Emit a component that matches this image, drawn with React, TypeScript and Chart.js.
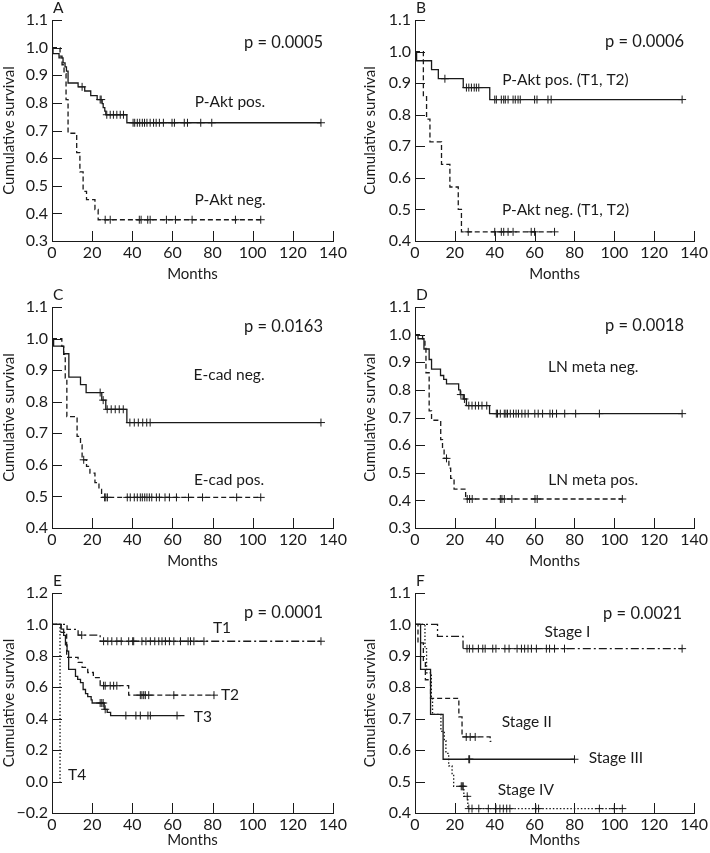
import React, { useEffect, useRef } from 'react';
import { Chart, registerables } from 'chart.js';

Chart.register(...registerables);

const FONT = 'Lato, "Noto Sans", sans-serif';
const INK = '#1a1a1a';

// ---------- shared axis ticks ----------
const monthTicks = [0, 20, 40, 60, 80, 100, 120, 140];

// ---------- Panel A : P-Akt ----------
const aPosTime = [0.5, 3.5, 5.5, 6.5, 7.2, 8, 13, 16.3, 19.3, 22.5, 25, 25.5, 26.3, 26.8, 37.3];
const aPosSurv = [0.978, 0.963, 0.945, 0.93, 0.915, 0.872, 0.858, 0.843, 0.826, 0.812, 0.797, 0.783, 0.77, 0.757, 0.728];
const aPosCensor = [15, 24, 24.5, 27.3, 29, 30.6, 32.3, 34, 35.6, 40.4, 41.2, 42.5, 43.7, 45, 46.1, 47.3, 48.9, 50.6, 51.9, 53.5, 55.5, 59.8, 61, 65.9, 67.5, 74.1, 79.6, 134];
const aNegTime = [4, 5, 6, 7, 8, 12.3, 13.9, 15.5, 17.2, 21.4, 23];
const aNegSurv = [0.969, 0.938, 0.906, 0.812, 0.69, 0.62, 0.55, 0.48, 0.45, 0.414, 0.377];
const aNegCensor = [26.5, 29, 43.5, 44.4, 47.7, 48.9, 57, 61.5, 69.8, 91.4, 104];

// ---------- Panel B : P-Akt (T1, T2) ----------
const bPosTime = [0.8, 8.3, 11.7, 24.2, 37.5];
const bPosSurv = [0.971, 0.943, 0.914, 0.886, 0.848];
const bPosCensor = [15, 25.8, 27, 28.3, 29.7, 30.8, 32, 40, 40.8, 43.3, 44.5, 45.3, 46.7, 49.2, 50.3, 51.7, 52.8, 60, 61.2, 66.7, 68.3, 134];
const bNegTime = [4.2, 5.8, 7.5, 13.3, 17.5, 21.7, 23.3];
const bNegSurv = [0.857, 0.786, 0.714, 0.643, 0.571, 0.5, 0.429];
const bNegCensor = [26.7, 40, 43.3, 44.5, 46.7, 49.2, 58.3, 60, 70];

// ---------- Panel C : E-cadherin ----------
const cNegTime = [0.8, 5.8, 8.4, 14.2, 17, 24.8, 26.8, 37.3];
const cNegSurv = [0.976, 0.952, 0.878, 0.854, 0.829, 0.805, 0.776, 0.734];
const cNegCensor = [24, 25.5, 27.5, 29.5, 31.5, 33.5, 35.5, 38.8, 41, 43, 45.2, 47.2, 48.9, 134];
const cPosTime = [4.9, 5.8, 6.6, 7.4, 12.5, 14.2, 15, 17.2, 18.9, 21.4, 23.4, 24.7];
const cPosSurv = [0.975, 0.95, 0.875, 0.753, 0.69, 0.663, 0.616, 0.595, 0.574, 0.544, 0.522, 0.497];
const cPosCensor = [15.8, 26.2, 26.8, 27.6, 37.5, 39, 41, 42.5, 44, 45, 46.2, 47.3, 48.5, 49.7, 52, 53.5, 56.3, 58.5, 62, 68, 75, 92, 104];

// ---------- Panel D : lymph node metastasis ----------
const dNegTime = [1.5, 4.5, 7.1, 8.3, 12.8, 14.4, 15.8, 21.9, 22.7, 24.2, 25.8, 37.4];
const dNegSurv = [0.985, 0.948, 0.91, 0.875, 0.852, 0.838, 0.822, 0.8, 0.783, 0.767, 0.743, 0.714];
const dNegCensor = [23, 24.8, 27, 28.6, 30.3, 31.9, 33.6, 36, 40.8, 41.4, 42.8, 44.8, 45.6, 46.4, 47.8, 49.4, 50.7, 51.9, 53.6, 55.2, 56.8, 60.1, 61.8, 64, 67.7, 69, 71, 75.1, 80.6, 92.5, 134];
const dPosTime = [3.8, 5, 5.5, 7.1, 8.3, 12.9, 13.8, 14.6, 17, 17.9, 19.6, 25.4];
const dPosSurv = [0.985, 0.96, 0.862, 0.724, 0.69, 0.62, 0.586, 0.552, 0.517, 0.48, 0.441, 0.405];
const dPosCensor = [15.8, 26.2, 27.4, 28.7, 42.8, 43.6, 44.8, 48.6, 60.2, 61.3, 104];

// ---------- Panel E : T stage ----------
const e1Time = [7.5, 13, 24];
const e1Surv = [0.968, 0.932, 0.893];
const e1Censor = [14.8, 25.7, 27.8, 29.8, 32.3, 34.5, 38.2, 40.2, 40.7, 44.8, 46.8, 49, 51.2, 53.2, 54.8, 56.5, 58.5, 60.7, 64, 67.8, 69, 70.7, 75.7, 134];
const e2Time = [4.5, 7.3, 13, 15, 17.8, 20.6, 24, 38.2];
const e2Surv = [0.95, 0.79, 0.758, 0.727, 0.694, 0.662, 0.61, 0.55];
const e2Censor = [25.7, 26.5, 29, 30.7, 32.3, 44, 44.8, 45.7, 46.5, 48.2, 60.7, 80.7];
const e3Time = [4.5, 5.8, 6.7, 7.5, 8.3, 11.7, 12.8, 14.2, 15.5, 16.7, 17.8, 19.5, 20, 26, 27.5, 29.2];
const e3Surv = [0.97, 0.93, 0.87, 0.83, 0.714, 0.67, 0.65, 0.63, 0.586, 0.56, 0.54, 0.52, 0.5, 0.46, 0.44, 0.42];
const e3Censor = [24, 24.8, 25.5, 26.5, 36.8, 41.8, 44, 47.8, 49, 62.3];
const e3End = 66;
const e4Time = [4];
const e4Surv = [0];
const e4Censor: number[] = [];

// ---------- Panel F : stage ----------
const f1Time = [11.3, 24.1];
const f1Surv = [0.962, 0.923];
const f1Censor = [26.1, 27.3, 29, 31.8, 34, 35.2, 39, 40.6, 45.1, 47.2, 51.2, 53.4, 55, 56.7, 58.4, 60.9, 65.9, 67.5, 70, 75, 134];
const f2Time = [1.5, 4.2, 5.2, 7.8, 22, 23.6, 37.7];
const f2Surv = [0.941, 0.882, 0.824, 0.765, 0.706, 0.642, 0.628];
const f2Censor = [25.7, 27.7, 30.2];
const f2End = 38.3;
const f3Time = [2.8, 7.8, 14.1];
const f3Surv = [0.857, 0.714, 0.571];
const f3Censor = [27, 27.4, 80];
const f4Time = [5, 5.8, 8.2, 8.8, 13, 14.7, 15.5, 16.9, 18.6, 19.4, 24.5, 26.5];
const f4Surv = [0.923, 0.846, 0.769, 0.714, 0.66, 0.63, 0.59, 0.55, 0.52, 0.485, 0.453, 0.414];
const f4Censor = [23.2, 23.7, 24.2, 26.2, 27, 28.6, 32, 36.8, 40.6, 42.6, 44.3, 46, 47.6, 60.6, 62, 92.5, 100, 104];

// ---------- rendering helpers ----------
type Style = 'solid' | 'dashed' | 'dashdot' | 'dotted';
const DASH: Record<Style, number[]> = {
  solid: [],
  dashed: [5, 3],
  dashdot: [8, 3, 2, 3],
  dotted: [1.5, 2],
};

function survAt(times: number[], surv: number[], t: number) {
  let v = 1;
  for (let i = 0; i < times.length; i++) if (times[i] <= t) v = surv[i];
  return v;
}

function curve(times: number[], surv: number[], censor: number[], style: Style, end?: number) {
  const lastT = times.length ? times[times.length - 1] : 0;
  const lastS = surv.length ? surv[surv.length - 1] : 1;
  const stop = end ?? Math.max(lastT, ...(censor.length ? censor : [0]));
  const pts = [{ x: 0, y: 1 }, ...times.map((t, i) => ({ x: t, y: surv[i] }))];
  if (stop > lastT) pts.push({ x: stop, y: lastS });
  return [
    {
      data: pts,
      stepped: true,
      borderColor: INK,
      borderWidth: 1.3,
      borderDash: DASH[style],
      pointRadius: 0,
      fill: false,
    },
    {
      data: censor.map((t) => ({ x: t, y: survAt(times, surv, t) })),
      showLine: false,
      pointStyle: 'cross',
      pointRadius: 4,
      pointBorderWidth: 1,
      borderColor: INK,
      backgroundColor: INK,
    },
  ];
}

type Label = { text: string; x: number; y: number; align: CanvasTextAlign; size: number };
type PanelCfg = {
  letter: string;
  left: number;
  top: number;
  w: number;
  h: number;
  padL: number;
  padR: number;
  yW: number;
  xH: number;
  yMin: number;
  yMax: number;
  yStep: number;
  labels: Label[];
  datasets: any[];
};

const inwardTicks = {
  id: 'inwardTicks',
  afterDatasetsDraw(chart: any) {
    const { ctx, chartArea, scales } = chart;
    ctx.save();
    ctx.strokeStyle = INK;
    ctx.lineWidth = 1;
    ctx.setLineDash([]);
    ctx.beginPath();
    scales.y.ticks.forEach((t: any) => {
      const py = Math.round(scales.y.getPixelForValue(t.value)) + 0.5;
      ctx.moveTo(chartArea.left, py);
      ctx.lineTo(chartArea.left + 10, py);
    });
    scales.x.ticks.forEach((t: any) => {
      const px = Math.round(scales.x.getPixelForValue(t.value)) + 0.5;
      ctx.moveTo(px, chartArea.bottom);
      ctx.lineTo(px, chartArea.bottom - 10);
    });
    ctx.stroke();
    ctx.restore();
  },
};

const panelText = {
  id: 'panelText',
  afterDraw(chart: any, _args: any, opts: any) {
    const { ctx, chartArea, scales } = chart;
    ctx.save();
    ctx.fillStyle = INK;
    ctx.textBaseline = 'middle';
    ctx.textAlign = 'left';
    ctx.font = `15.5px ${FONT}`;
    ctx.fillText(opts.letter, chartArea.left + 1, 8);
    for (const l of opts.labels as Label[]) {
      ctx.font = `${l.size}px ${FONT}`;
      ctx.textAlign = l.align;
      ctx.fillText(l.text, scales.x.getPixelForValue(l.x), scales.y.getPixelForValue(l.y));
    }
    ctx.restore();
  },
};

const LEFT = { left: 0, padL: 0, yW: 52, padR: 22 };
const RIGHT = { left: 355, padL: 6, yW: 54, padR: 13 };
const ROW1 = { top: 0, h: 283, xH: 42 };
const ROW2 = { top: 287, h: 283, xH: 42 };
const ROW3 = { top: 573, h: 276, xH: 36 };
const P = 16.5; // p-value text size
const L = 15.5; // curve label size

const panels: PanelCfg[] = [
  {
    letter: 'A', ...LEFT, ...ROW1, w: 355, yMin: 0.3, yMax: 1.1, yStep: 0.1,
    labels: [
      { text: 'p = 0.0005', x: 135, y: 1.017, align: 'right', size: P },
      { text: 'P-Akt pos.', x: 88.7, y: 0.803, align: 'center', size: L },
      { text: 'P-Akt neg.', x: 88.7, y: 0.448, align: 'center', size: L },
    ],
    datasets: [...curve(aPosTime, aPosSurv, aPosCensor, 'solid'), ...curve(aNegTime, aNegSurv, aNegCensor, 'dashed')],
  },
  {
    letter: 'B', ...RIGHT, ...ROW1, w: 355, yMin: 0.4, yMax: 1.1, yStep: 0.1,
    labels: [
      { text: 'p = 0.0006', x: 135, y: 1.03, align: 'right', size: P },
      { text: 'P-Akt pos. (T1, T2)', x: 75.5, y: 0.909, align: 'center', size: L },
      { text: 'P-Akt neg. (T1, T2)', x: 75.5, y: 0.499, align: 'center', size: L },
    ],
    datasets: [...curve(bPosTime, bPosSurv, bPosCensor, 'solid'), ...curve(bNegTime, bNegSurv, bNegCensor, 'dashed')],
  },
  {
    letter: 'C', ...LEFT, ...ROW2, w: 355, yMin: 0.4, yMax: 1.1, yStep: 0.1,
    labels: [
      { text: 'p = 0.0163', x: 135, y: 1.037, align: 'right', size: P },
      { text: 'E-cad neg.', x: 88.2, y: 0.885, align: 'center', size: L },
      { text: 'E-cad pos.', x: 88.2, y: 0.552, align: 'center', size: L },
    ],
    datasets: [...curve(cNegTime, cNegSurv, cNegCensor, 'solid'), ...curve(cPosTime, cPosSurv, cPosCensor, 'dashed')],
  },
  {
    letter: 'D', ...RIGHT, ...ROW2, w: 355, yMin: 0.3, yMax: 1.1, yStep: 0.1,
    labels: [
      { text: 'p = 0.0018', x: 135, y: 1.031, align: 'right', size: P },
      { text: 'LN meta neg.', x: 89.4, y: 0.881, align: 'center', size: L },
      { text: 'LN meta pos.', x: 89.4, y: 0.472, align: 'center', size: L },
    ],
    datasets: [...curve(dNegTime, dNegSurv, dNegCensor, 'solid'), ...curve(dPosTime, dPosSurv, dPosCensor, 'dashed')],
  },
  {
    letter: 'E', ...LEFT, ...ROW3, w: 355, yMin: -0.2, yMax: 1.2, yStep: 0.2,
    labels: [
      { text: 'p = 0.0001', x: 135, y: 1.073, align: 'right', size: P },
      { text: 'T1', x: 84.7, y: 0.977, align: 'center', size: L },
      { text: 'T2', x: 88.7, y: 0.551, align: 'center', size: L },
      { text: 'T3', x: 75.2, y: 0.411, align: 'center', size: L },
      { text: 'T4', x: 12.5, y: 0.042, align: 'center', size: L },
    ],
    datasets: [
      ...curve(e1Time, e1Surv, e1Censor, 'dashdot'),
      ...curve(e2Time, e2Surv, e2Censor, 'dashed'),
      ...curve(e3Time, e3Surv, e3Censor, 'solid', e3End),
      ...curve(e4Time, e4Surv, e4Censor, 'dotted'),
    ],
  },
  {
    letter: 'F', ...RIGHT, ...ROW3, w: 355, yMin: 0.4, yMax: 1.1, yStep: 0.1,
    labels: [
      { text: 'p = 0.0021', x: 134, y: 1.033, align: 'right', size: P },
      { text: 'Stage I', x: 76.5, y: 0.976, align: 'center', size: L },
      { text: 'Stage II', x: 56.1, y: 0.69, align: 'center', size: L },
      { text: 'Stage III', x: 100.8, y: 0.575, align: 'center', size: L },
      { text: 'Stage IV', x: 55.6, y: 0.473, align: 'center', size: L },
    ],
    datasets: [
      ...curve(f1Time, f1Surv, f1Censor, 'dashdot'),
      ...curve(f2Time, f2Surv, f2Censor, 'dashed', f2End),
      ...curve(f3Time, f3Surv, f3Censor, 'solid'),
      ...curve(f4Time, f4Surv, f4Censor, 'dotted'),
    ],
  },
];

function fmt(v: number) {
  const r = Math.abs(v) < 1e-9 ? 0 : v;
  return r.toFixed(1).replace('-', '\u2212');
}

function KMPanel({ cfg }: { cfg: PanelCfg }) {
  const ref = useRef<HTMLCanvasElement>(null);
  useEffect(() => {
    const tickFont = { family: FONT, size: 16 };
    const titleFont = { family: FONT, size: 15 };
    const chart = new Chart(ref.current as HTMLCanvasElement, {
      type: 'line',
      data: { datasets: cfg.datasets },
      plugins: [inwardTicks, panelText],
      options: {
        animation: false,
        responsive: false,
        maintainAspectRatio: false,
        devicePixelRatio: 1,
        layout: { padding: { left: cfg.padL, right: cfg.padR, top: 20, bottom: 0 } },
        plugins: {
          legend: { display: false },
          tooltip: { enabled: false },
          panelText: { letter: cfg.letter, labels: cfg.labels },
        } as any,
        scales: {
          x: {
            type: 'linear',
            min: 0,
            max: 140,
            afterFit: (s: any) => { s.height = cfg.xH; },
            afterBuildTicks: (s: any) => { s.ticks = monthTicks.map((v) => ({ value: v })); },
            grid: { display: true, drawOnChartArea: false, drawTicks: false },
            border: { display: true, color: INK, width: 1 },
            ticks: { font: tickFont, color: INK, padding: 2, maxRotation: 0, callback: (v: any) => String(v) },
            title: { display: true, text: 'Months', font: titleFont, color: INK, padding: { top: 0, bottom: 0 } },
          },
          y: {
            type: 'linear',
            min: cfg.yMin,
            max: cfg.yMax,
            afterFit: (s: any) => { s.width = cfg.yW; },
            grid: { display: true, drawOnChartArea: false, drawTicks: false },
            border: { display: true, color: INK, width: 1 },
            ticks: { stepSize: cfg.yStep, font: tickFont, color: INK, padding: 4, callback: (v: any) => fmt(Number(v)) },
            title: { display: true, text: 'Cumulative survival', font: titleFont, color: INK, padding: { top: 0, bottom: 0 } },
          },
        },
      } as any,
    });
    return () => chart.destroy();
  }, [cfg]);
  return (
    <canvas
      ref={ref}
      width={cfg.w}
      height={cfg.h}
      style={{ position: 'absolute', left: cfg.left, top: cfg.top, width: cfg.w, height: cfg.h }}
    />
  );
}

export default function App() {
  return (
    <div style={{ position: 'absolute', left: 0, top: 0, width: 710, height: 853, background: '#fff', overflow: 'hidden' }}>
      {panels.map((p) => (
        <KMPanel key={p.letter} cfg={p} />
      ))}
    </div>
  );
}
